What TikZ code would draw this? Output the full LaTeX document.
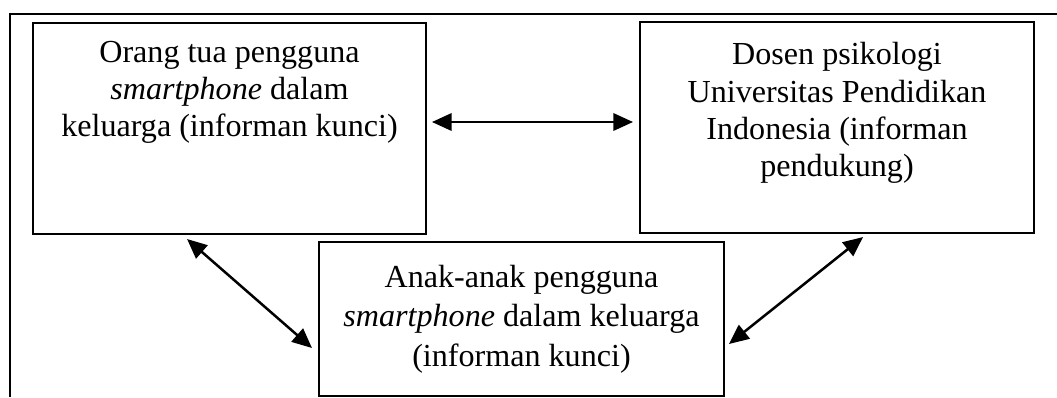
\documentclass[tikz,border=0pt]{standalone}
\usepackage{fontspec}
\setmainfont{Liberation Serif}
\usetikzlibrary{arrows.meta,positioning}

\begin{document}
\begin{tikzpicture}[
  x=0.38pt, y=-0.38pt,
  kotak/.style={draw=black, line width=0.7pt, inner sep=0pt, outer sep=0pt},
  isi/.style={inner sep=0pt, align=center, font=\fontsize{12.2pt}{#1}\selectfont},
  panah/.style={{Triangle[length=7.5pt,width=6.6pt]}-{Triangle[length=7.5pt,width=6.6pt]}, line width=0.95pt, draw=black}
]
  \useasboundingbox (0,0) rectangle (1057,397);

  % bingkai
  \draw[line width=0.7pt] (10,397) -- (10,14) -- (1057,14);

  \node[kotak, minimum width=149.3pt, minimum height=80.2pt] (ortu) at (229.5,128.5) {};
  \node[kotak, minimum width=149.7pt, minimum height=80.2pt] (dosen) at (837,127.5) {};
  \node[kotak, minimum width=153.9pt, minimum height=58.5pt, isi=15pt] (anak) at (521.5,319)
    {Anak-anak pengguna\\\textit{smartphone} dalam keluarga\\(informan kunci)};

  \node[isi=14.1pt, anchor=north, below=6.8pt of ortu.north] (ortu teks)
    {Orang tua pengguna\\\textit{smartphone} dalam\\keluarga (informan kunci)};
  \node[isi=14.2pt, anchor=north, below=7.6pt of dosen.north] (dosen teks)
    {Dosen psikologi\\Universitas Pendidikan\\Indonesia (informan\\pendukung)};

  \draw[panah] ([shift={(6,-6.5)}]ortu.east) -- ([shift={(-7,-5.5)}]dosen.west);
  \draw[panah] ([shift={(154,5)}]ortu.south west) -- ([shift={(-7,29)}]anak.west);
  \draw[panah] ([shift={(223,4)}]dosen.south west) -- ([shift={(5,25)}]anak.east);

\end{tikzpicture}
\end{document}
